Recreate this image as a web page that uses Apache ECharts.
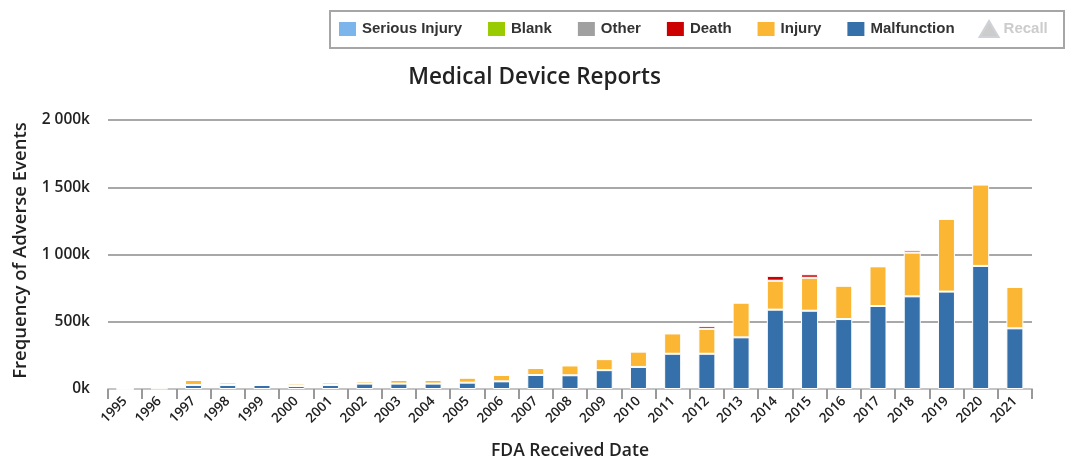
<!DOCTYPE html>
<html>
<head>
<meta charset="utf-8">
<script src="https://cdn.jsdelivr.net/npm/echarts@6/dist/echarts.min.js"></script>
<style>
html,body{margin:0;padding:0;background:#fff;}
#chart{width:1069px;height:461px;}
</style>
</head>
<body>
<div id="chart"></div>
<script>
const years = ['1995','1996','1997','1998','1999','2000','2001','2002','2003','2004','2005','2006','2007','2008','2009','2010','2011','2012','2013','2014','2015','2016','2017','2018','2019','2020','2021'];
// values in thousands
const malfunction = [1, 3, 30, 30, 30, 22, 30, 40, 40, 40, 47, 57, 104, 102, 140, 164, 262, 262, 384, 590, 582, 520, 617, 689, 724, 915, 451];
const injury      = [0, 12, 37, 18, 2, 18, 18, 17, 27, 27, 37, 47, 52, 73, 82, 114, 151, 185, 258, 215, 245, 248, 295, 325, 541, 605, 308];
const death       = [0, 0, 0, 0, 0, 0, 0, 0, 0, 0, 0, 0, 0, 0, 0, 0, 0, 20, 0, 36, 26, 0, 0, 17, 0, 0, 0];
const other = [];
const blank = [];
const seriousInjury = [];
const recall = [];
const yTicks = [0, 500, 1000, 1500, 2000];

const chart = echarts.init(document.getElementById('chart'));
const fontFam = '"Open Sans", "Noto Sans", sans-serif';
const barBase = {type:'bar', stack:'total', barWidth:17, itemStyle:{borderColor:'#fff', borderWidth:1}};
function fmt(v){
  if (v === 0) return '0k';
  return String(v).replace(/\B(?=(\d{3})+(?!\d))/g, ' ') + 'k';
}
chart.setOption({
  animation:false,
  title:{text:'Medical Device Reports', left:'center', top:61,
    textStyle:{fontFamily:fontFam, fontSize:22.5, fontWeight:600, color:'#222'}},
  graphic:[{type:'rect', shape:{x:330, y:11, width:734, height:37},
    style:{fill:'none', stroke:'#a6a6a6', lineWidth:2}, silent:true}],
  legend:{left:332, top:15, itemWidth:19, itemHeight:16, itemGap:24,
    inactiveColor:'#cccccc',
    textStyle:{fontFamily:'"Liberation Sans", Arial, sans-serif', fontSize:15, fontWeight:'bold', color:'#333'},
    data:[
      {name:'Serious Injury', icon:'rect'},
      {name:'Blank', icon:'rect'},
      {name:'Other', icon:'rect'},
      {name:'Death', icon:'rect'},
      {name:'Injury', icon:'rect'},
      {name:'Malfunction', icon:'rect'},
      {name:'Recall', icon:'triangle'}
    ],
    selected:{'Recall':false}
  },
  grid:{left:108, right:37, top:120, bottom:72, outerBoundsMode:'none', containLabel:false},
  xAxis:{type:'category', data:years, boundaryGap:true,
    name:'FDA Received Date', nameLocation:'middle', nameGap:53,
    nameTextStyle:{fontFamily:fontFam, fontSize:17.5, fontWeight:600, color:'#222'},
    axisLine:{lineStyle:{color:'#c4c4c4', width:2}},
    axisTick:{show:true, alignWithLabel:false, length:10, lineStyle:{color:'#999', width:2}},
    axisLabel:{rotate:45, interval:0, margin:10, fontFamily:fontFam, fontSize:13.5, fontWeight:600, color:'#222'}
  },
  yAxis:{type:'value', min:0, max:2000, interval:500,
    name:'Frequency of Adverse Events', nameLocation:'middle', nameGap:78,
    nameTextStyle:{fontFamily:fontFam, fontSize:18.5, fontWeight:600, color:'#222', padding:[0,0,0,8]},
    axisLine:{show:false}, axisTick:{show:false},
    splitLine:{lineStyle:{color:'#a8a8a8', width:2}},
    axisLabel:{margin:18, fontFamily:fontFam, fontSize:15.5, fontWeight:600, color:'#222', formatter:fmt}
  },
  series:[
    Object.assign({}, barBase, {name:'Malfunction', data:malfunction, color:'#3670aa'}),
    Object.assign({}, barBase, {name:'Injury', data:injury, color:'#fbb734'}),
    Object.assign({}, barBase, {name:'Death', data:death, color:'#cc0000'}),
    Object.assign({}, barBase, {name:'Other', data:other, color:'#a0a0a0'}),
    Object.assign({}, barBase, {name:'Blank', data:blank, color:'#99cc00'}),
    Object.assign({}, barBase, {name:'Serious Injury', data:seriousInjury, color:'#7cb5ec'}),
    Object.assign({}, barBase, {name:'Recall', data:recall, color:'#a0a0a0'})
  ]
});
</script>
</body>
</html>
